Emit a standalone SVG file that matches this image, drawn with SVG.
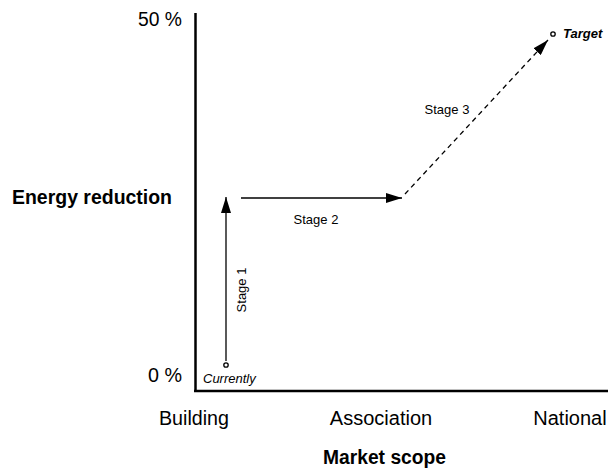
<svg xmlns="http://www.w3.org/2000/svg" width="608" height="470" viewBox="0 0 608 470">
<style>
text{font-family:"Liberation Sans",Arial,sans-serif;fill:#000}
.ax{font-size:20px}
.b{font-size:20px;font-weight:bold}
.s{font-size:13px}
.ln{stroke:#000;stroke-width:1.3;fill:none}
</style>
<defs>
<marker id="ah" viewBox="0 0 16 10" refX="16" refY="5" markerWidth="16" markerHeight="10" markerUnits="userSpaceOnUse" orient="auto">
<path d="M0,0 L16,5 L0,10 Z" fill="#000"/>
</marker>
</defs>
<g id="axes">
<line x1="195.5" y1="13" x2="195.5" y2="391" stroke="#000" stroke-width="2.5"/>
<line x1="194" y1="391" x2="608" y2="391" stroke="#000" stroke-width="2.5"/>
<text class="ax" x="138" y="26" textLength="44" lengthAdjust="spacingAndGlyphs">50 %</text>
<text class="ax" x="148" y="382" textLength="34" lengthAdjust="spacingAndGlyphs">0 %</text>
<text class="b" x="12" y="204" textLength="160" lengthAdjust="spacingAndGlyphs">Energy reduction</text>
<text class="ax" x="159" y="425" textLength="70" lengthAdjust="spacingAndGlyphs">Building</text>
<text class="ax" x="381" y="425" text-anchor="middle">Association</text>
<text class="ax" x="570" y="425" text-anchor="middle">National</text>
<text class="b" x="323" y="464" textLength="123" lengthAdjust="spacingAndGlyphs">Market scope</text>
</g>
<g id="currently">
<circle cx="226" cy="365" r="2.2" fill="#fff" stroke="#000" stroke-width="1.3"/>
<text class="s" x="203" y="383" font-style="italic">Currently</text>
</g>
<g id="target">
<circle cx="553" cy="34" r="2.2" fill="#fff" stroke="#000" stroke-width="1.3"/>
<text class="s" x="563" y="38" font-style="italic" font-weight="bold">Target</text>
</g>
<g id="connectors">
<line class="ln" x1="226" y1="361" x2="226" y2="197" marker-end="url(#ah)"/>
<line class="ln" x1="241" y1="198" x2="402" y2="198" marker-end="url(#ah)"/>
<line class="ln" x1="405" y1="194" x2="548" y2="40" stroke-dasharray="5,4" marker-end="url(#ah)"/>
<text class="s" transform="translate(246,290) rotate(-90)" text-anchor="middle">Stage 1</text>
<text class="s" x="316" y="224" text-anchor="middle">Stage 2</text>
<text class="s" x="447" y="114" text-anchor="middle">Stage 3</text>
</g>
</svg>
